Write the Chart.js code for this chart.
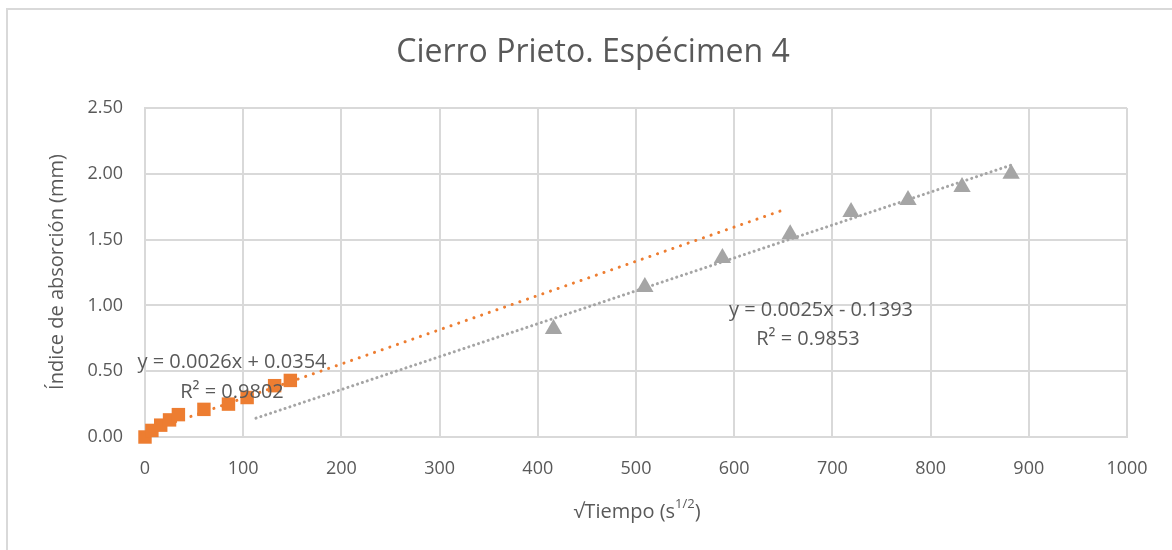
<!DOCTYPE html>
<html>
<head>
<meta charset="utf-8">
<script src="https://cdn.jsdelivr.net/npm/chart.js@4.4.1/dist/chart.umd.min.js"></script>
<style>
  html, body { margin: 0; padding: 0; background: #fff; }
  #wrap { width: 1172px; height: 550px; }
</style>
</head>
<body>
<div id="wrap"><canvas id="chart"></canvas></div>
<script>
// data
const orangeX = [0, 7, 16, 25, 34, 60, 85, 104, 132, 148];
const orangeY = [0.00, 0.05, 0.09, 0.13, 0.17, 0.21, 0.25, 0.30, 0.39, 0.43];
const grayX = [416, 509, 588, 657, 719, 777, 832, 882];
const grayY = [0.82, 1.14, 1.36, 1.54, 1.71, 1.80, 1.90, 2.00];
const orangeTrendX = [0, 648];
const orangeTrendY = [0.035, 1.72];
const grayTrendX = [113, 882];
const grayTrendY = [0.143, 2.066];
const xTicks = [0, 100, 200, 300, 400, 500, 600, 700, 800, 900, 1000];
const yTicks = [0, 0.5, 1, 1.5, 2, 2.5];

const FONT = "'Open Sans', 'Noto Sans', sans-serif";
const TXT = '#595959';
const pts = (xs, ys) => xs.map((x, i) => ({ x, y: ys[i] }));

// ── frame, title, axis titles and trendline labels ──
const decor = {
    id: 'decor',
    beforeDraw(chart) {
        const ctx = chart.ctx;
        ctx.save();
        ctx.strokeStyle = '#D9D9D9';
        ctx.lineWidth = 2;
        ctx.strokeRect(7, 9, 1200, 600);
        ctx.restore();
    },
    afterDraw(chart) {
        const ctx = chart.ctx;
        ctx.save();
        ctx.fillStyle = TXT;
        ctx.textBaseline = 'middle';
        ctx.textAlign = 'center';

        // chart title
        ctx.font = '32px ' + FONT;
        ctx.fillText('Cierro Prieto. Espécimen 4', 593, 53);

        // trendline equations
        ctx.font = '20px ' + FONT;
        ctx.fillText('y = 0.0026x + 0.0354', 232, 362);
        ctx.fillText('R² = 0.9802', 232, 392);
        ctx.fillText('y = 0.0025x - 0.1393', 821, 310);
        ctx.fillText('R² = 0.9853', 808, 339);

        // y title
        ctx.font = '20px ' + FONT;
        ctx.save();
        ctx.translate(57, 272);
        ctx.rotate(-Math.PI / 2);
        ctx.fillText('Índice de absorción (mm)', 0, 0);
        ctx.restore();

        // x title with superscript
        const main = '√Tiempo (s', sup = '1/2', end = ')';
        ctx.font = '20px ' + FONT;
        const w1 = ctx.measureText(main).width;
        const w3 = ctx.measureText(end).width;
        ctx.font = '13px ' + FONT;
        const w2 = ctx.measureText(sup).width;
        let x = 637 - (w1 + w2 + w3) / 2;
        ctx.textAlign = 'left';
        ctx.font = '20px ' + FONT;
        ctx.fillText(main, x, 512);
        ctx.font = '13px ' + FONT;
        ctx.fillText(sup, x + w1, 504);
        ctx.font = '20px ' + FONT;
        ctx.fillText(end, x + w1 + w2, 512);
        ctx.restore();
    }
};

new Chart(document.getElementById('chart'), {
    type: 'scatter',
    data: {
        datasets: [
            {
                label: 'trend orange', data: pts(orangeTrendX, orangeTrendY), showLine: true,
                borderColor: '#ED7D31', borderWidth: 3, borderDash: [0.1, 8], borderCapStyle: 'round',
                pointRadius: 0, order: 3, clip: false
            },
            {
                label: 'trend gray', data: pts(grayTrendX, grayTrendY), showLine: true,
                borderColor: '#A5A5A5', borderWidth: 3, borderDash: [0.1, 5], borderCapStyle: 'round',
                pointRadius: 0, order: 3, clip: false
            },
            {
                label: 'Orange', data: pts(orangeX, orangeY),
                pointStyle: 'rect', pointRadius: 9.5, pointHoverRadius: 9.5,
                backgroundColor: '#ED7D31', borderColor: '#ED7D31', borderWidth: 0, order: 1, clip: false
            },
            {
                label: 'Gray', data: pts(grayX, grayY),
                pointStyle: 'triangle', pointRadius: 10, pointHoverRadius: 10,
                backgroundColor: '#A5A5A5', borderColor: '#A5A5A5', borderWidth: 0, order: 2, clip: false
            }
        ]
    },
    options: {
        responsive: true,
        maintainAspectRatio: false,
        animation: false,
        layout: { padding: { left: 0, right: 45, top: 108, bottom: 0 } },
        plugins: {
            legend: { display: false },
            tooltip: { enabled: false },
            title: { display: false }
        },
        scales: {
            x: {
                type: 'linear', min: 0, max: 1000,
                afterBuildTicks: s => { s.ticks = xTicks.map(v => ({ value: v })); },
                afterFit: s => { s.height = 113; },
                grid: { color: '#D9D9D9', lineWidth: 2, drawTicks: false },
                border: { color: '#D9D9D9', width: 2 },
                ticks: { color: TXT, padding: 21, font: { family: FONT, size: 18 }, maxRotation: 0,
                         callback: v => String(v) }
            },
            y: {
                type: 'linear', min: 0, max: 2.5,
                afterBuildTicks: s => { s.ticks = yTicks.map(v => ({ value: v })); },
                afterFit: s => { s.width = 145; },
                grid: { color: '#D9D9D9', lineWidth: 2, drawTicks: false },
                border: { color: '#D9D9D9', width: 2 },
                ticks: { color: TXT, padding: 22, font: { family: FONT, size: 18 },
                         callback: v => v.toFixed(2) }
            }
        }
    },
    plugins: [decor]
});
</script>
</body>
</html>
